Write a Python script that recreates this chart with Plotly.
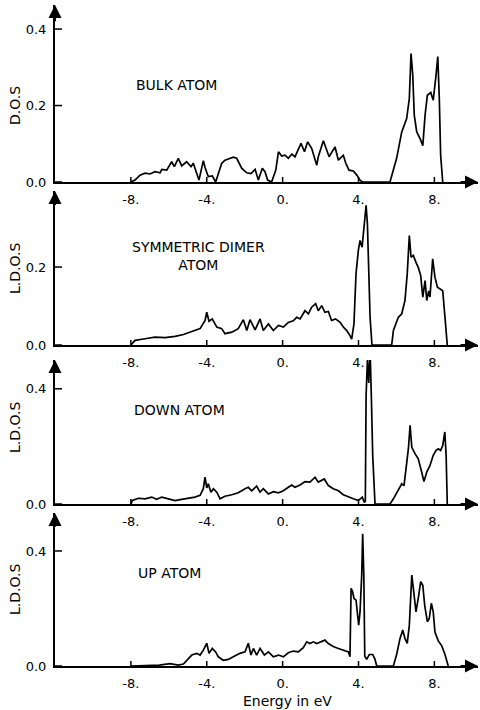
import plotly.graph_objects as go

# ---------------- data ----------------
E1 = [-8.0,-7.78,-7.52,-7.25,-6.99,-6.73,-6.46,-6.37,-6.11,-5.85,-5.71,-5.50,-5.32,-5.06,-4.83,-4.71,-4.41,-4.18,-4.09,-3.92,
      -3.71,-3.53,-3.21,-3.04,-2.60,-2.42,-2.16,-1.89,-1.67,-1.45,-1.28,-1.07,-0.93,-0.79,-0.58,-0.36,-0.22,-0.05,0.13,0.30,
      0.48,0.65,0.97,1.15,1.32,1.53,1.80,1.88,2.15,2.32,2.45,2.76,2.94,3.20,3.33,3.50,3.73,3.91,4.08,4.20,
      5.66,6.01,6.28,6.54,6.68,6.77,6.86,6.94,7.07,7.24,7.39,7.51,7.63,7.81,7.94,8.09,8.18,8.26,8.33,8.44]
D1 = [0.0,0.005,0.018,0.023,0.021,0.027,0.024,0.033,0.031,0.053,0.040,0.062,0.042,0.053,0.040,0.049,0.005,0.056,0.038,0.014,
      0.016,0.0,0.049,0.057,0.065,0.062,0.036,0.024,0.022,0.033,0.005,0.036,0.027,0.005,0.0,0.031,0.079,0.068,0.070,0.062,
      0.073,0.066,0.101,0.079,0.105,0.088,0.044,0.066,0.108,0.084,0.066,0.092,0.057,0.070,0.049,0.031,0.029,0.018,0.005,0.0,
      0.0,0.062,0.131,0.166,0.219,0.336,0.280,0.175,0.131,0.114,0.095,0.175,0.227,0.234,0.214,0.280,0.328,0.219,0.071,0.0]

E2 = [-8.0,-7.78,-7.25,-6.73,-6.20,-5.67,-5.23,-4.88,-4.62,-4.35,-4.09,-4.00,-3.88,-3.71,-3.47,-3.21,-3.04,-2.68,-2.34,-2.07,
      -1.89,-1.72,-1.45,-1.19,-1.02,-0.75,-0.49,-0.22,0.04,0.30,0.56,0.74,0.92,1.18,1.36,1.53,1.74,1.88,2.06,2.23,
      2.41,2.58,2.79,3.03,3.20,3.38,3.55,3.64,3.76,3.87,3.99,4.08,4.19,4.29,4.40,4.47,4.52,4.61,4.71,
      5.75,5.84,6.10,6.28,6.45,6.57,6.68,6.77,6.89,7.03,7.15,7.28,7.39,7.51,7.60,7.70,7.77,7.91,8.03,8.16,8.30,8.44,8.56,8.68]
D2 = [0.0,0.012,0.016,0.020,0.019,0.022,0.027,0.033,0.037,0.042,0.063,0.084,0.061,0.067,0.046,0.042,0.029,0.033,0.042,0.065,
      0.037,0.065,0.039,0.067,0.037,0.054,0.037,0.050,0.046,0.058,0.062,0.071,0.067,0.088,0.080,0.097,0.106,0.088,0.101,0.084,
      0.086,0.063,0.067,0.058,0.046,0.037,0.024,0.015,0.054,0.183,0.242,0.268,0.251,0.294,0.358,0.311,0.225,0.071,0.0,
      0.0,0.037,0.071,0.080,0.114,0.183,0.281,0.225,0.230,0.212,0.199,0.178,0.123,0.165,0.114,0.139,0.123,0.221,0.174,0.148,0.144,0.139,0.071,0.0]

E3 = [-8.0,-7.92,-7.60,-7.25,-6.90,-6.64,-6.37,-6.02,-5.67,-5.32,-4.97,-4.62,-4.35,-4.18,-4.09,-4.00,-3.92,-3.78,-3.65,-3.47,
      -3.30,-3.04,-2.68,-2.34,-1.98,-1.81,-1.63,-1.37,-1.19,-1.02,-0.75,-0.49,-0.22,0.04,0.30,0.48,0.65,0.92,1.18,1.44,
      1.71,1.88,2.20,2.41,2.67,2.94,3.20,3.47,3.73,3.99,4.20,4.31,4.36,4.40,4.47,4.54,4.61,4.68,4.75,4.87,
      5.66,5.84,6.10,6.28,6.40,6.50,6.63,6.72,6.81,6.98,7.15,7.33,7.45,7.60,7.77,7.94,8.09,8.21,8.33,8.44,8.55,8.62,8.68]
D3 = [0.0,0.012,0.020,0.018,0.024,0.016,0.024,0.018,0.012,0.016,0.020,0.024,0.030,0.053,0.093,0.056,0.070,0.041,0.053,0.041,
      0.018,0.027,0.032,0.039,0.053,0.058,0.046,0.062,0.041,0.053,0.035,0.043,0.039,0.046,0.058,0.066,0.058,0.066,0.078,0.076,
      0.093,0.076,0.087,0.064,0.053,0.046,0.032,0.024,0.018,0.012,0.024,0.005,0.010,0.376,0.500,0.420,0.540,0.365,0.168,0.0,
      0.0,0.018,0.052,0.070,0.064,0.122,0.192,0.273,0.197,0.175,0.157,0.111,0.078,0.111,0.134,0.169,0.186,0.192,0.186,0.203,0.250,0.169,0.0]

E4 = [-8.0,-6.5,-5.94,-5.5,-5.23,-5.06,-4.79,-4.53,-4.35,-4.18,-4.00,-3.88,-3.71,-3.53,-3.39,-3.13,-2.86,-2.60,-2.25,-1.98,
      -1.81,-1.67,-1.54,-1.37,-1.19,-0.96,-0.75,-0.49,-0.22,0.04,0.30,0.56,0.83,1.09,1.27,1.44,1.62,1.80,2.06,2.23,
      2.41,2.67,2.94,3.20,3.47,3.55,3.61,3.69,3.76,3.87,3.94,4.01,4.08,4.17,4.22,4.28,4.33,4.43,4.57,4.75,4.87,4.96,
      5.84,6.01,6.19,6.33,6.45,6.57,6.68,6.81,6.93,7.03,7.15,7.28,7.39,7.49,7.63,7.73,7.84,7.94,8.03,8.21,8.39,8.56,8.73]
D4 = [0.0,0.003,0.008,0.003,0.007,0.020,0.038,0.044,0.038,0.055,0.079,0.044,0.061,0.049,0.032,0.020,0.023,0.032,0.044,0.049,
      0.079,0.038,0.061,0.038,0.061,0.038,0.049,0.032,0.038,0.032,0.046,0.052,0.049,0.064,0.084,0.078,0.084,0.078,0.087,0.090,
      0.078,0.068,0.061,0.055,0.049,0.032,0.270,0.258,0.235,0.229,0.188,0.142,0.188,0.316,0.460,0.316,0.035,0.023,0.040,0.040,0.023,0.0,
      0.0,0.040,0.096,0.125,0.096,0.079,0.142,0.316,0.247,0.188,0.235,0.293,0.281,0.211,0.154,0.165,0.218,0.188,0.118,0.087,0.070,0.040,0.0]

X_TICKS = [-8, -4, 0, 4, 8]
X_TICKTEXT = ["-8.", "-4.", "0.", "4.", "8."]
PANEL_LABELS = ["BULK ATOM", "SYMMETRIC DIMER<br>ATOM", "DOWN ATOM", "UP ATOM"]
Y_TITLES = ["D.O.S", "L.D.O.S", "L.D.O.S", "L.D.O.S"]
Y_TICKS = [[0.0, 0.2, 0.4], [0.0, 0.2], [0.0, 0.4], [0.0, 0.4]]
Y_TICKTEXT = [["0.0", "0.2", "0.4"], ["0.0", "0.2"], ["0.0", "0.4"], ["0.0", "0.4"]]
X_TITLE = "Energy in eV"

# ---------------- layout geometry ----------------
W, H = 480, 710
XMIN, XMAX = -12.0, 10.3
YMAX = [0.463, 0.395, 0.50, 0.532]
PIX = [(182, 5), (345, 191), (504, 360), (666, 513)]  # (baseline, top) in px
LABEL_POS = [(176, 85), (198, 256), (179, 410), (169, 573)]
FAM = "DejaVu Sans"
TICKFONT = dict(family=FAM, size=13, color="black")
TXTFONT = dict(family=FAM, size=14, color="black")

fig = go.Figure()
series = [(E1, D1), (E2, D2), (E3, D3), (E4, D4)]
layout = dict(template="none", width=W, height=H, margin=dict(l=0, r=0, t=0, b=0, pad=0),
              paper_bgcolor="white", plot_bgcolor="white", showlegend=False,
              font=TICKFONT)
annotations = []
shapes = []
for i, (e, d) in enumerate(series):
    n = "" if i == 0 else str(i + 1)
    fig.add_trace(go.Scatter(x=e, y=d, mode="lines", xaxis="x" + n, yaxis="y" + n,
                             line=dict(color="black", width=1.7), hoverinfo="skip"))
    base, top = PIX[i]
    layout["xaxis" + n] = dict(domain=[55 / W, 478 / W], range=[XMIN, XMAX], anchor="y" + n,
                               automargin=False, showgrid=False, zeroline=False,
                               showline=True, linewidth=2, linecolor="black",
                               tickvals=X_TICKS, ticktext=X_TICKTEXT, ticks="",
                               tickfont=TICKFONT, ticklabelstandoff=4)
    layout["yaxis" + n] = dict(domain=[1 - base / H, 1 - top / H], range=[0, YMAX[i]], anchor="x" + n,
                               automargin=False, showgrid=False, zeroline=False,
                               showline=True, linewidth=2, linecolor="black",
                               tickvals=Y_TICKS[i], ticktext=Y_TICKTEXT[i], ticks="",
                               tickfont=TICKFONT, ticklabelstandoff=4)
    xr, yr = "x" + n, "y" + n
    # inward tick marks
    for tv in X_TICKS:
        shapes.append(dict(type="line", xref=xr, yref=yr, x0=tv, x1=tv, ysizemode="pixel", yanchor=0,
                           y0=0, y1=5, line=dict(color="black", width=1.5)))
    for tv in Y_TICKS[i]:
        shapes.append(dict(type="line", xref=xr, yref=yr, y0=tv, y1=tv, xsizemode="pixel", xanchor=XMIN,
                           x0=0, x1=7, line=dict(color="black", width=1.5)))
    # arrow heads at the ends of the axes
    annotations.append(dict(x=XMIN, y=YMAX[i], ax=XMIN, ay=YMAX[i] * 0.9, xref=xr, yref=yr, axref=xr, ayref=yr,
                            text="", showarrow=True, arrowhead=2, arrowsize=1.3, arrowwidth=2,
                            arrowcolor="black", standoff=0, startstandoff=0))
    annotations.append(dict(x=XMAX, y=0, ax=XMAX - 1.0, ay=0, xref=xr, yref=yr, axref=xr, ayref=yr,
                            text="", showarrow=True, arrowhead=2, arrowsize=1.3, arrowwidth=2,
                            arrowcolor="black", standoff=0, startstandoff=0))
    lx, ly = LABEL_POS[i]
    annotations.append(dict(x=lx / W, y=1 - ly / H, xref="paper", yref="paper", text=PANEL_LABELS[i],
                            showarrow=False, font=TXTFONT, xanchor="center", yanchor="middle"))
    annotations.append(dict(x=15 / W, y=1 - (base - 76) / H, xref="paper", yref="paper", text=Y_TITLES[i],
                            showarrow=False, textangle=-90, font=TXTFONT,
                            xanchor="center", yanchor="middle"))

annotations.append(dict(x=287 / W, y=1 - 701 / H, xref="paper", yref="paper", text=X_TITLE,
                        showarrow=False, font=TXTFONT, xanchor="center", yanchor="middle"))
layout["annotations"] = annotations
layout["shapes"] = shapes
fig.update_layout(**layout)
fig.write_html("out.html", config={"displayModeBar": False},
               post_script="document.body.style.margin='0';document.body.style.overflow='hidden';")
